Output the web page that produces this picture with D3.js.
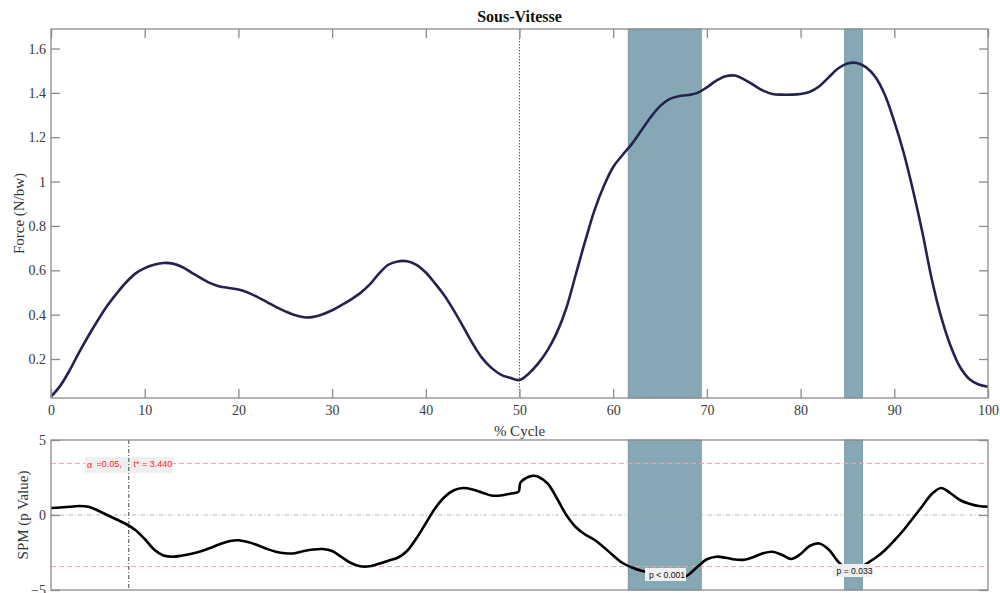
<!DOCTYPE html>
<html><head><meta charset="utf-8">
<script src="https://cdn.jsdelivr.net/npm/d3@7"></script>
<style>body{margin:0;background:#fff}svg{display:block}</style>
</head><body>
<svg id="c" width="1000" height="593"></svg>
<script>
// ---------- DATA ----------
const title = "Sous-Vitesse";
const xLabel = "% Cycle";
const yLabelTop = "Force (N/bw)";
const yLabelBottom = "SPM (p Value)";

const forceX = [0,1,2,3,4,5,6,7,8,9,10,11,12,13,14,15,16,17,18,19,20,21,22,23,24,25,26,27,28,29,30,31,32,33,34,35,36,37,38,39,40,41,42,43,44,45,46,47,48,49,50,51,52,53,54,55,56,57,58,59,60,61,62,63,64,65,66,67,68,69,70,71,72,73,74,75,76,77,78,79,80,81,82,83,84,85,86,87,88,89,90,91,92,93,94,95,96,97,98,99,100];
const forceY = [0.03,0.08,0.15,0.23,0.305,0.375,0.44,0.495,0.545,0.585,0.61,0.625,0.633,0.63,0.615,0.59,0.565,0.542,0.527,0.52,0.513,0.5,0.48,0.458,0.435,0.415,0.398,0.388,0.39,0.402,0.42,0.443,0.468,0.497,0.535,0.585,0.625,0.64,0.641,0.625,0.59,0.54,0.485,0.418,0.345,0.27,0.205,0.16,0.13,0.115,0.105,0.135,0.18,0.24,0.32,0.43,0.58,0.73,0.87,0.98,1.066,1.12,1.17,1.23,1.29,1.34,1.372,1.385,1.39,1.40,1.425,1.455,1.475,1.478,1.46,1.435,1.41,1.395,1.392,1.392,1.395,1.405,1.43,1.47,1.51,1.532,1.535,1.515,1.47,1.39,1.27,1.13,0.96,0.77,0.56,0.39,0.26,0.165,0.11,0.085,0.075];

const spmX = [0,1,2,3,4,5,6,7,8,9,10,11,12,13,14,15,16,17,18,19,20,21,22,23,24,25,26,27,28,29,30,31,32,33,34,35,36,37,38,39,40,41,42,43,44,45,46,47,48,49,49.9,50.1,51,51.5,52,53,54,55,56,57,58,59,60,61,62,63,64,65,66,67,68,69,70,71,72,73,74,75,76,77,78,79,80,81,82,83,84,85,86,87,88,89,90,91,92,93,94,95,96,97,98,99,100];
const spmY = [0.47,0.5,0.55,0.6,0.55,0.3,0.0,-0.3,-0.6,-1.0,-1.6,-2.3,-2.7,-2.78,-2.7,-2.58,-2.42,-2.2,-1.95,-1.75,-1.68,-1.8,-2.0,-2.25,-2.45,-2.55,-2.55,-2.4,-2.3,-2.27,-2.4,-2.8,-3.2,-3.42,-3.42,-3.25,-3.05,-2.85,-2.4,-1.55,-0.55,0.45,1.2,1.65,1.8,1.7,1.5,1.3,1.3,1.42,1.56,2.16,2.55,2.62,2.55,2.1,1.1,0.0,-0.8,-1.3,-1.65,-2.15,-2.7,-3.2,-3.5,-3.72,-3.85,-4.0,-4.2,-4.3,-4.0,-3.45,-2.95,-2.78,-2.85,-2.97,-2.98,-2.8,-2.55,-2.45,-2.65,-2.93,-2.6,-2.05,-1.9,-2.3,-3.1,-3.6,-3.65,-3.25,-2.85,-2.35,-1.7,-1.0,-0.2,0.6,1.4,1.8,1.45,1.0,0.75,0.6,0.56];

const clusters = [[61.6, 69.4], [84.7, 86.6]];
const clusterP = ["p < 0.001", "p = 0.033"];
const tCrit = 3.440;
const alphaText = "=0.05,";
const tCritText = "t* = 3.440";
const xTicks = [0,10,20,30,40,50,60,70,80,90,100];
const yTicksTop = [0.2,0.4,0.6,0.8,1,1.2,1.4,1.6];
const yTicksBottom = [-5,0,5];
const markerTop = 50;
const markerBottom = 8.3;

// ---------- LAYOUT ----------
const svg = d3.select("#c");
const L = 51, R = 988;
const top1 = 29, bot1 = 398;
const top2 = 440, bot2 = 590;
const axisCol = "#8a8a8a";
const tickTextCol = "#3a3a3a";
const serif = "'Liberation Serif', 'Times New Roman', serif";
const sans = "'Liberation Sans', Arial, sans-serif";
const shadeCol = "#85a8b4";

const x = d3.scaleLinear().domain([0,100]).range([L,R]);
const y1 = d3.scaleLinear().domain([0.0242,1.688]).range([bot1,top1]);
const y2 = d3.scaleLinear().domain([-5,5]).range([bot2,top2]);

function frame(g, yt, yb) {
  g.append("rect").attr("x",L).attr("y",yt).attr("width",R-L).attr("height",yb-yt)
   .attr("fill","none").attr("stroke",axisCol).attr("stroke-width",1.3);
}
function styleAxis(g) {
  g.select(".domain").remove();
  g.selectAll(".tick line").attr("stroke",axisCol).attr("stroke-width",1.3);
  g.selectAll(".tick text").attr("fill",tickTextCol).attr("font-family",serif).attr("font-size",14);
}

// ---------- TOP PANEL ----------
const gTop = svg.append("g");
gTop.selectAll("rect.shade").data(clusters).join("rect").attr("class","shade")
  .attr("x",d=>x(d[0])).attr("width",d=>x(d[1])-x(d[0]))
  .attr("y",top1).attr("height",bot1-top1)
  .attr("fill",shadeCol).attr("stroke","#6f939f").attr("stroke-width",0.8);

gTop.append("line").attr("x1",x(markerTop)).attr("x2",x(markerTop))
  .attr("y1",top1).attr("y2",bot1).attr("stroke","#555").attr("stroke-width",0.9)
  .attr("stroke-dasharray","1.5,1.5");

const line1 = d3.line().x((d,i)=>x(forceX[i])).y(d=>y1(d)).curve(d3.curveCatmullRom.alpha(0.5));
gTop.append("path").attr("d",line1(forceY)).attr("fill","none")
  .attr("stroke","#24234f").attr("stroke-width",2.6).attr("stroke-linejoin","round");

const gxb = gTop.append("g").attr("transform",`translate(0,${bot1})`)
  .call(d3.axisBottom(x).tickValues(xTicks).tickSize(-9).tickPadding(7).tickFormat(d3.format("d")));
const gxt = gTop.append("g").attr("transform",`translate(0,${top1})`)
  .call(d3.axisTop(x).tickValues(xTicks).tickSize(-9).tickFormat(""));
const gyl = gTop.append("g").attr("transform",`translate(${L},0)`)
  .call(d3.axisLeft(y1).tickValues(yTicksTop).tickSize(-9).tickPadding(5).tickFormat(d=>String(+d.toFixed(1))));
const gyr = gTop.append("g").attr("transform",`translate(${R},0)`)
  .call(d3.axisRight(y1).tickValues(yTicksTop).tickSize(-9).tickFormat(""));
[gxb,gxt,gyl,gyr].forEach(styleAxis);
frame(gTop, top1, bot1);

gTop.append("text").attr("x",(L+R)/2).attr("y",22).attr("text-anchor","middle")
  .attr("font-family",serif).attr("font-weight","bold").attr("font-size",16).attr("fill","#111").text(title);
gTop.append("text").attr("x",(L+R)/2).attr("y",436).attr("text-anchor","middle")
  .attr("font-family",serif).attr("font-size",15).attr("fill","#333").text(xLabel);
gTop.append("text").attr("transform",`translate(24,${(top1+bot1)/2}) rotate(-90)`).attr("text-anchor","middle")
  .attr("font-family",serif).attr("font-size",15).attr("fill","#333").text(yLabelTop);

// ---------- BOTTOM PANEL ----------
const gB = svg.append("g");
gB.selectAll("rect.shade").data(clusters).join("rect").attr("class","shade")
  .attr("x",d=>x(d[0])).attr("width",d=>x(d[1])-x(d[0]))
  .attr("y",top2).attr("height",bot2-top2)
  .attr("fill",shadeCol).attr("stroke","#6f939f").attr("stroke-width",0.8);

gB.append("line").attr("x1",L).attr("x2",R).attr("y1",y2(0)).attr("y2",y2(0))
  .attr("stroke","#a8a8a8").attr("stroke-width",0.8).attr("stroke-dasharray","4,2,1,2");
[tCrit,-tCrit].forEach(t=>{
  gB.append("line").attr("x1",L).attr("x2",R).attr("y1",y2(t)).attr("y2",y2(t))
    .attr("stroke","#f4a3a6").attr("stroke-width",1).attr("stroke-dasharray","5,3");
});

const line2 = d3.line().x((d,i)=>x(spmX[i])).y(d=>y2(d)).curve(d3.curveCatmullRom.alpha(0.5));
gB.append("path").attr("d",line2(spmY)).attr("fill","none")
  .attr("stroke","#000").attr("stroke-width",2.6).attr("stroke-linejoin","round");

const ay = y2(tCrit);
gB.append("rect").attr("x",85).attr("y",ay-6.5).attr("width",88).attr("height",16).attr("fill","#efefef");
gB.append("text").attr("x",87).attr("y",ay+4.5).attr("font-family",serif).attr("font-size",10).attr("fill","#ff2020").text("α");
gB.append("text").attr("x",96.5).attr("y",ay+4).attr("font-family",sans).attr("font-size",9).attr("fill","#ff2020").text(alphaText);
gB.append("text").attr("x",133.5).attr("y",ay+4).attr("font-family",sans).attr("font-size",9).attr("fill","#ff2020").text(tCritText);

gB.append("line").attr("x1",x(markerBottom)).attr("x2",x(markerBottom)).attr("y1",top2).attr("y2",bot2)
  .attr("stroke","#333").attr("stroke-width",0.9).attr("stroke-dasharray","4,2,1,2");

const pBox = [[645,568,41,13,649,577.5],[833,564,40,13,836.5,573.5]];
pBox.forEach((b,i)=>{
  gB.append("rect").attr("x",b[0]).attr("y",b[1]).attr("width",b[2]).attr("height",b[3]).attr("fill","#f0f0f0");
  gB.append("text").attr("x",b[4]).attr("y",b[5]).attr("font-family",sans).attr("font-size",8.6).attr("fill","#111").text(clusterP[i]);
});

const gyl2 = gB.append("g").attr("transform",`translate(${L},0)`)
  .call(d3.axisLeft(y2).tickValues(yTicksBottom).tickSize(-9).tickPadding(5).tickFormat(d3.format("d")));
const gyr2 = gB.append("g").attr("transform",`translate(${R},0)`)
  .call(d3.axisRight(y2).tickValues(yTicksBottom).tickSize(-9).tickFormat(""));
[gyl2,gyr2].forEach(styleAxis);
frame(gB, top2, bot2);

gB.append("text").attr("transform",`translate(28,${y2(0)}) rotate(-90)`).attr("text-anchor","middle")
  .attr("font-family",serif).attr("font-size",15).attr("fill","#333").text(yLabelBottom);
</script>
</body></html>
